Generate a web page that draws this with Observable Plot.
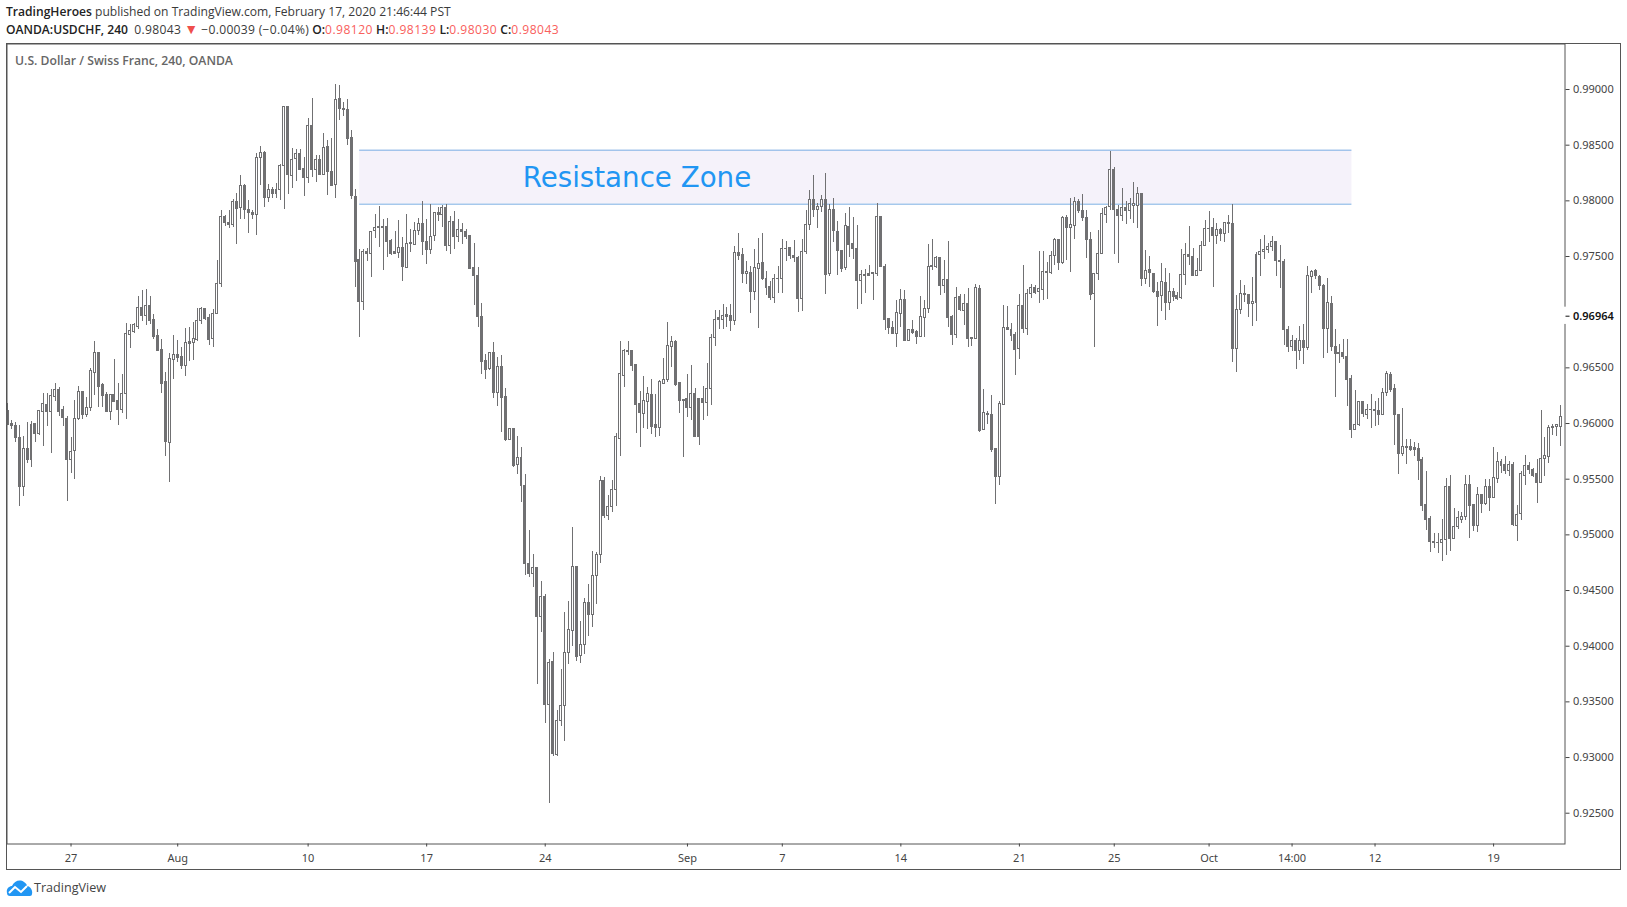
<!DOCTYPE html>
<html><head><meta charset="utf-8">
<script src="https://cdn.jsdelivr.net/npm/d3@7"></script>
<script src="https://cdn.jsdelivr.net/npm/@observablehq/plot@0.6"></script>
<style>
html,body{margin:0;padding:0;background:#fff;width:1627px;height:907px;overflow:hidden}
body{position:relative;font-family:"Open Sans",sans-serif}
.h{position:absolute;left:6px;font-size:12.1px;color:#3a3a3a;white-space:nowrap;line-height:16px}
.h b{color:#222;font-weight:600}
.r{color:#f9605c;letter-spacing:.45px}
.n{letter-spacing:.3px}
#box{position:absolute;left:6px;top:43px;width:1615px;height:827px;box-sizing:border-box;border:1px solid #555}
#chart{position:absolute;left:0;top:43px}
#sym{position:absolute;left:15px;top:53px;font-size:12.2px;font-weight:600;color:#666;line-height:16px;white-space:nowrap}
#foot{position:absolute;left:34px;top:879px;font-size:12.6px;color:#444;line-height:18px}
#logo{position:absolute;left:6px;top:880px}
</style></head><body>
<div class="h" style="top:4px"><b>TradingHeroes</b> published on TradingView.com, February 17, 2020 21:46:44 PST</div>
<div class="h" style="top:22px"><b>OANDA:USDCHF, 240</b>&nbsp; <span class="n">0.98043</span> <span style="color:#ef4f4c;font-size:14px;line-height:10px">▼</span> <span class="n">−0.00039 (−0.04%)</span> <b>O:</b><span class="r">0.98120</span> <b>H:</b><span class="r">0.98139</span> <b>L:</b><span class="r">0.98030</span> <b>C:</b><span class="r">0.98043</span></div>
<div id="box"></div>
<div id="chart"></div>
<div id="sym">U.S. Dollar / Swiss Franc, 240, OANDA</div>
<svg id="logo" width="27" height="17" viewBox="0 0 27 17"><path d="M1 13 C0 9 3 6 6 6 C8 1 14 -1 18 2 C20 3 21 5 21 6 C24 6 27 10 26 14 C26 16 24 16 23 16 L4 16 C2 16 1 15 1 13Z" fill="#2196f3"/><path d="M3 13 L9 7 L15 12 L21 6" fill="none" stroke="#fff" stroke-width="2"/></svg>
<div id="foot">TradingView</div>
<script>
// Candles as [open, high, low, close] in 0.00001 price units, split by stretch of the chart
const lateJuly=[[96111,96177,95979,95985],[95994,96027,95949,95979],[95982,96009,95826,95871],[95874,95982,95256,95430],[95430,95886,95346,95775],[95775,96006,95637,95673],[95673,96021,95607,95991],[96000,96000,95832,95907],[95907,96117,95895,96108],[96105,96267,95796,96171],[96162,96267,95976,96105],[96105,96303,95733,96243],[96240,96363,96195,96297],[96297,96327,96066,96105],[96117,96156,95976,96051],[96045,96066,95301,95673],[95673,95877,95547,95748],[95754,96210,95499,96045],[96045,96336,96027,96279],[96279,96279,96036,96078],[96078,96231,96057,96135],[96141,96495,96105,96468],[96456,96738,96255,96630],[96630,96630,96141,96330],[96345,96360,96141,96249],[96252,96279,96105,96105],[96105,96252,96030,96252],[96252,96576,96186,96195],[96198,96360,95985,96123],[96123,96441,96087,96261]];
const earlyAugust=[[96267,96900,96039,96801],[96798,96885,96672,96828],[96825,96900,96813,96882],[96870,97137,96843,97035],[97035,97191,96915,96969],[96969,97200,96879,97053],[97053,97137,96891,96924],[96927,96975,96756,96780],[96783,96840,96645,96654],[96657,96759,96267,96357],[96369,96462,95706,95835],[95826,96633,95472,96576],[96573,96795,96393,96612],[96612,96750,96546,96591],[96594,96681,96483,96519],[96519,96849,96426,96720],[96729,96864,96561,96717],[96726,96909,96570,96756],[96753,97029,96741,96918],[96918,97044,96885,97026],[97026,97035,96927,96942],[96945,96981,96705,96753],[96762,97020,96681,96981],[96981,97461,96981,97251],[97251,97911,97218,97854],[97857,97866,97770,97797],[97797,97911,97749,97779],[97779,98010,97761,97989],[97989,98064,97608,97923],[97932,98226,97830,98133]];
const midAugust=[[98133,98151,97830,97914],[97917,98001,97707,97887],[97890,97917,97830,97869],[97869,98421,97686,98385],[98382,98487,98136,98430],[98430,98439,97938,98022],[98022,98148,97983,98097],[98097,98124,98022,98058],[98058,98160,98019,98097],[98097,98325,98007,98316],[98313,98844,97920,98844],[98844,98844,98055,98229],[98220,98466,98109,98367],[98373,98460,98172,98421],[98421,98460,98271,98280],[98286,98385,98040,98202],[98202,98739,98157,98673],[98673,98916,98208,98274],[98274,98406,98163,98367],[98367,98406,98229,98229],[98229,98601,98229,98475],[98484,98541,98046,98256],[98259,98556,98127,98136],[98139,99045,98019,98907],[98916,99036,98721,98823],[98826,98880,98757,98820],[98817,98910,98499,98553],[98565,98631,98013,98040],[98034,98100,97221,97455],[97467,97560,96771,97095]];
const plateau=[[97095,97560,97011,97539],[97539,97569,97452,97527],[97521,97728,97311,97719],[97725,97875,97665,97755],[97755,97947,97581,97761],[97764,97836,97371,97752],[97764,97839,97491,97626],[97638,97653,97509,97527],[97539,97722,97521,97524],[97536,97827,97482,97572],[97576,97672,97276,97402],[97399,97876,97390,97612],[97621,97744,97537,97609],[97606,97807,97597,97729],[97726,97837,97687,97792],[97792,97993,97507,97627],[97630,97831,97426,97555],[97555,97963,97516,97675],[97681,97891,97636,97891],[97891,97936,97816,97870],[97870,97957,97762,97936],[97936,97966,97543,97591],[97591,97858,97516,97807],[97810,97903,97561,97672],[97678,97831,97627,97738],[97741,97798,97612,97717],[97720,97741,97651,97678],[97684,97684,97381,97390],[97396,97621,97057,97321],[97324,97399,96862,96961]];
const slide=[[96955,97081,96436,96556],[96559,96622,96394,96484],[96493,96631,96472,96631],[96631,96724,96223,96277],[96277,96592,96157,96505],[96505,96607,95917,96232],[96235,96319,95842,95851],[95851,95947,95851,95947],[95947,95947,95602,95620],[95626,95884,95542,95692],[95692,95782,95293,95437],[95440,95542,94633,94735],[94738,95038,94618,94645],[94645,94828,94525,94702],[94702,94702,93652,94258],[94258,94579,94120,94441],[94441,94462,93310,93475],[93475,93883,92584,93847],[93856,93940,93013,93034],[93025,93424,93013,93325],[93325,93787,93283,93460],[93460,94306,93148,93937],[93943,94399,93832,94144],[94141,95065,93994,94711],[94711,94720,93859,93907],[93916,94225,93841,94009],[94009,94432,93928,94387],[94387,94552,94084,94276],[94276,94849,94165,94630],[94630,94846,94372,94819]];
const recovery=[[94816,95524,94741,95485],[95485,95512,95146,95167],[95167,95353,95128,95251],[95248,95488,95200,95404],[95401,95914,95254,95875],[95863,96736,95707,96442],[96430,96667,96328,96652],[96652,96733,96613,96646],[96649,96652,96469,96520],[96523,96523,95908,96166],[96172,96289,95782,96097],[96088,96418,95953,96199],[96196,96322,95947,96262],[96253,96397,95902,95971],[95983,96262,95872,95962],[95962,96382,95887,96373],[96358,96586,96352,96388],[96388,96904,96367,96694],[96691,96778,96502,96730],[96730,96742,96337,96346],[96361,96367,96088,96205],[96214,96214,95692,96205],[96217,96436,96058,96142],[96142,96517,96028,96262],[96262,96313,95872,95881],[96217,96217,95806,95881],[96217,96331,96028,96187],[96187,96541,96067,96307],[96307,96802,96166,96766],[96766,97012,96691,96928]];
const earlySeptember=[[96946,97018,96847,96934],[96931,97072,96847,96964],[96973,97042,96862,96961],[96964,97072,96826,96922],[96925,97594,96877,97531],[97531,97711,97462,97501],[97513,97576,97258,97339],[97339,97453,97252,97363],[97351,97411,96988,97177],[97177,97564,97102,97396],[97387,97666,96850,97432],[97441,97708,97282,97294],[97297,97366,97147,97213],[97225,97276,97102,97123],[97123,97336,97078,97297],[97294,97408,97165,97300],[97297,97651,97165,97567],[97564,97633,97456,97570],[97576,97576,97471,97501],[97504,97642,97447,97483],[97489,97498,96997,97114],[97114,97657,97006,97540],[97537,97912,97516,97783],[97780,98092,97732,98008],[98008,98227,97852,97918],[97918,97972,97753,97945],[97945,98047,97897,98008],[98008,98248,97159,97330],[97342,97966,97318,97918],[97918,98017,97624,97729]];
const midSeptember=[[97720,97813,97327,97546],[97549,97552,97354,97384],[97393,97882,97372,97774],[97765,97936,97489,97600],[97612,97846,97477,97564],[97567,97777,97021,97276],[97276,97372,97066,97333],[97327,97381,97165,97333],[97342,97423,97327,97327],[97339,97351,97102,97351],[97342,97975,97318,97855],[97855,97855,97402,97402],[97408,97426,96832,96934],[96937,96937,96796,96862],[96859,96913,96796,96802],[96808,97102,96679,96991],[96988,97201,96862,97108],[97108,97198,96736,96742],[96745,96838,96742,96838],[96838,96922,96796,96817],[96820,96832,96706,96781],[96781,97138,96772,96955],[96952,97102,96772,97027],[97033,97606,96985,97408],[97408,97651,97372,97414],[97402,97501,97396,97489],[97489,97489,97150,97231],[97231,97462,97168,97288],[97288,97633,96862,96952],[96955,96973,96697,96799]];
const lateSeptember=[[96793,97219,96760,97126],[97138,97156,97006,97021],[97012,97162,96877,97075],[97075,97210,96679,96763],[96766,96766,96688,96757],[96763,97252,96763,97216],[97207,97237,95923,95932],[95944,96310,95944,96091],[96088,96112,95992,96073],[96073,96256,95737,95764],[95770,95776,95275,95521],[95521,96202,95446,96172],[96166,97057,96160,96856],[96856,97051,96832,96838],[96838,96898,96736,96790],[96793,96817,96427,96664],[96673,97162,96571,97054],[97054,97417,96811,96853],[96853,97201,96790,97162],[97162,97252,97123,97216],[97216,97243,97162,97174],[97177,97543,97081,97207],[97195,97543,97102,97360],[97357,97447,97111,97348],[97348,97543,97342,97504],[97504,97666,97417,97648],[97648,97657,97372,97438],[97438,97858,97432,97846],[97846,97867,97462,97756],[97756,98017,97354,97783]];
const retest=[[97771,98026,97657,97990],[97990,98011,97888,97909],[97909,98056,97816,97843],[97846,97912,97483,97648],[97648,97714,97102,97150],[97162,97342,96679,97342],[97342,97732,97288,97519],[97519,97927,97516,97882],[97870,97948,97801,97936],[97942,98446,97912,98278],[98278,98296,97516,97918],[97918,97957,97438,97861],[97861,98107,97816,97936],[97936,97993,97789,97909],[97906,98017,97828,97972],[97954,98167,97798,97972],[97954,98116,97753,98062],[98062,98068,97234,97297],[97297,97558,97252,97366],[97378,97498,97222,97348],[97343,97349,97172,97178],[97181,97268,96872,97133],[97142,97433,97007,97271],[97262,97388,96923,97079],[97079,97343,97013,97181],[97181,97217,97097,97139],[97145,97178,97109,97121],[97124,97562,97118,97334],[97334,97613,97238,97514],[97514,97769,97418,97493]];
const earlyOctober=[[97496,97568,97319,97328],[97328,97478,97319,97370],[97370,97634,97364,97595],[97595,97823,97592,97748],[97745,97904,97628,97751],[97757,97844,97223,97685],[97685,97799,97610,97739],[97739,97754,97637,97703],[97703,97802,97628,97802],[97802,97868,97703,97793],[97793,97967,96548,96665],[96665,97148,96458,97019],[97019,97283,96977,97163],[97163,97244,97088,97151],[97154,97154,96953,97070],[97070,97313,96872,97091],[97079,97538,96917,97514],[97511,97649,97319,97538],[97538,97685,97472,97559],[97556,97619,97529,97589],[97589,97679,97547,97631],[97631,97637,97322,97457],[97463,97598,97214,97448],[97451,97469,96698,96836],[96839,96869,96641,96683],[96683,96791,96647,96740],[96740,96767,96485,96647],[96647,96872,96563,96740],[96740,96887,96530,96674],[96674,97409,96656,97325]];
const midOctober=[[97313,97373,97169,97361],[97370,97379,97295,97322],[97319,97328,97193,97232],[97232,97253,96584,96845],[96845,97301,96629,97082],[97073,97139,96647,96683],[96686,96842,96233,96623],[96629,96710,96539,96623],[96629,96758,96572,96593],[96596,96752,96152,96395],[96398,96428,95864,95945],[95945,96293,95945,95984],[95984,96191,95969,96191],[96191,96191,96053,96083],[96074,96173,96035,96119],[96119,96257,95954,96125],[96125,96194,95972,96110],[96110,96227,95978,96074],[96074,96317,96074,96272],[96272,96470,96242,96443],[96434,96458,96281,96305],[96308,96347,95807,96074],[96074,96074,95540,95729],[95726,96131,95708,95786],[95783,95861,95636,95789],[95786,95858,95747,95765],[95777,95834,95708,95765],[95768,95825,95486,95660],[95669,95699,95207,95261],[95264,95573,95039,95135]];
const lateOctober=[[95138,95168,94838,94937],[94940,95015,94874,94928],[94931,95009,94832,94925],[94928,95141,94757,94958],[94958,95504,94817,95426],[95426,95534,94853,94964],[94964,95237,94958,95075],[95075,95207,95045,95147],[95135,95198,95099,95156],[95156,95537,95129,95444],[95444,95537,94964,95261],[95264,95267,95033,95084],[95084,95423,95018,95354],[95354,95363,95189,95273],[95273,95501,95267,95426],[95426,95498,95213,95333],[95333,95789,95327,95507],[95498,95744,95459,95651],[95651,95678,95549,95615],[95624,95708,95543,95576],[95576,95663,95525,95624],[95624,95654,95072,95090],[95084,95267,94937,95174],[95183,95573,95132,95543],[95531,95714,95447,95615],[95615,95654,95543,95579],[95579,95594,95519,95531],[95543,95678,95279,95468],[95468,96113,95468,95678],[95678,95873,95528,95705],[95702,95978,95639,95957],[95969,95987,95891,95957],[95969,95993,95879,95984],[95972,96158,95798,96056]];

const priceTicks=[0.99,0.985,0.98,0.975,0.965,0.96,0.955,0.95,0.945,0.94,0.935,0.93,0.925];
const dateTickBars=[16,43,76,106,136,172,196,226,256,280,304,325,346,376];
const dateTickLabels=["27","Aug","10","17","24","Sep","7","14","21","25","Oct","14:00","12","19"];
const zoneTop=0.98455, zoneBottom=0.97970;
const zoneStartBar=89.05, zoneEndBar=340.15;
const lastPrice=0.96964;

const candles=[lateJuly,earlyAugust,midAugust,plateau,slide,recovery,earlySeptember,midSeptember,lateSeptember,retest,earlyOctober,midOctober,lateOctober].flat()
  .map((r,i)=>{const [o,h,l,c]=r.map(v=>v/1e5);return {i,o,h,l,c,up:c>=o};});
const labelOf=new Map(dateTickBars.map((b,k)=>[b,dateTickLabels[k]]));
const gray="#707072", axisCol="#555";
const xMax=394.07;

const chart=Plot.plot({
  width:1627,height:827,marginLeft:6.5,marginRight:62.5,marginTop:0.5,marginBottom:26.5,
  style:{background:"transparent",fontFamily:'"Noto Sans",sans-serif',fontSize:"11px",overflow:"visible"},
  x:{type:"linear",domain:[-0.2,xMax]},
  y:{type:"linear",domain:[0.922235,0.994087]},
  marks:[
    Plot.rect([0],{x1:zoneStartBar,x2:zoneEndBar,y1:zoneBottom,y2:zoneTop,fill:"#f5f2fa"}),
    Plot.ruleY([zoneTop,zoneBottom],{x1:zoneStartBar,x2:zoneEndBar,stroke:"#7aaee3",strokeWidth:1}),
    Plot.text(["Resistance Zone"],{x:130.3,y:0.98200,text:d=>d,textAnchor:"start",fill:"#2196f3",fontSize:27.7,fontFamily:'"DejaVu Sans",sans-serif'}),
    Plot.ruleX(candles,{x:"i",y1:"l",y2:"h",stroke:gray,strokeWidth:1,shapeRendering:"crispEdges"}),
    Plot.rect(candles,{x1:d=>d.i-0.25,x2:d=>d.i+0.25,y1:d=>Math.min(d.o,d.c),y2:d=>Math.max(d.o,d.c),fill:d=>d.up?"#fff":gray,stroke:gray,strokeWidth:1,shapeRendering:"crispEdges"}),
    Plot.frame({stroke:axisCol,strokeWidth:1}),
    Plot.ruleX([xMax],{y1:0.96890,y2:0.97045,stroke:"#fff",strokeWidth:3}),
    Plot.axisY({anchor:"right",ticks:priceTicks,tickFormat:d3.format(".5f"),tickSize:4,tickPadding:4,color:"#444",label:null}),
    Plot.axisY({anchor:"right",ticks:[lastPrice],tickFormat:d3.format(".5f"),tickSize:4,tickPadding:4,color:"#111",fontWeight:600,label:null}),
    Plot.axisX({anchor:"bottom",ticks:dateTickBars,tickFormat:d=>labelOf.get(d),tickSize:3,tickPadding:7,color:"#444",label:null})
  ]
});
document.getElementById("chart").appendChild(chart);
</script>
</body></html>
